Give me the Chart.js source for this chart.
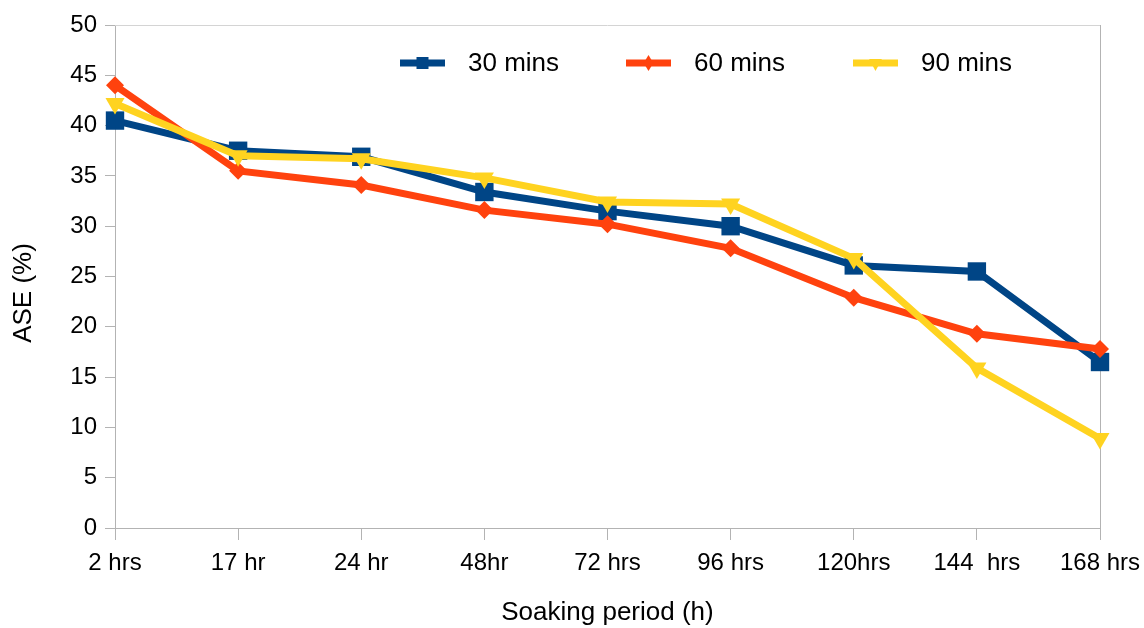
<!DOCTYPE html>
<html>
<head>
<meta charset="utf-8">
<title>ASE vs soaking period</title>
<script src="https://cdn.jsdelivr.net/npm/chart.js@4/dist/chart.umd.min.js"></script>
<style>
  html, body { margin: 0; padding: 0; background: #ffffff; }
  #wrap { width: 1144px; height: 628px; position: relative; }
</style>
</head>
<body>
<div id="wrap"><canvas id="chart" width="1144" height="628"></canvas></div>
<script>
// Soaking periods (category axis)
const periods = ['2 hrs', '17 hr', '24 hr', '48hr', '72 hrs', '96 hrs', '120hrs', '144  hrs', '168 hrs'];

// ASE (%) for each treatment time
const seriesNames = ['30 mins', '60 mins', '90 mins'];
const ase30 = [40.5, 37.5, 36.9, 33.4, 31.5, 30.0, 26.1, 25.5, 16.5];
const ase60 = [44.0, 35.5, 34.1, 31.6, 30.2, 27.8, 22.9, 19.3, 17.8];
const ase90 = [42.2, 37.0, 36.7, 34.8, 32.4, 32.2, 26.8, 15.9, 8.9];

// Y axis ticks
const yMin = 0, yMax = 50, yStep = 5;
const yTitle = 'ASE (%)';
const xTitle = 'Soaking period (h)';

const FONT = '"Liberation Sans", Arial, sans-serif';
const AXIS_GRAY = '#b3b3b3';

Chart.defaults.font.family = FONT;
Chart.defaults.color = '#000000';

// Light frame on the top and right edges of the plot area, plus the y title
const frame = {
  id: 'frame',
  beforeDatasetsDraw(chart) {
    const { ctx, chartArea: a } = chart;
    ctx.save();
    ctx.lineWidth = 1;
    ctx.strokeStyle = '#d4d4d4';
    ctx.beginPath();
    ctx.moveTo(a.left, a.top + 0.5);
    ctx.lineTo(a.right, a.top + 0.5);
    ctx.stroke();
    ctx.strokeStyle = AXIS_GRAY;
    ctx.beginPath();
    ctx.moveTo(Math.round(a.right) + 0.5, a.top);
    ctx.lineTo(Math.round(a.right) + 0.5, a.bottom);
    ctx.stroke();

    ctx.translate(24, 293);
    ctx.rotate(-Math.PI / 2);
    ctx.fillStyle = '#000000';
    ctx.font = '26px ' + FONT;
    ctx.textAlign = 'center';
    ctx.textBaseline = 'middle';
    ctx.fillText(yTitle, 0, 0);
    ctx.restore();
  }
};

// Single-row legend drawn inside the plot area
const innerLegend = {
  id: 'innerLegend',
  afterDraw(chart) {
    const { ctx } = chart;
    const xs = [400, 626, 853];
    const y = 63;
    const lineLen = 45;
    ctx.save();
    chart.data.datasets.forEach((ds, i) => {
      const x0 = xs[i];
      const cx = x0 + lineLen / 2;
      const r = ds.legendRadius;
      ctx.strokeStyle = ds.borderColor;
      ctx.lineWidth = 7;
      ctx.lineCap = 'butt';
      ctx.beginPath();
      ctx.moveTo(x0, y);
      ctx.lineTo(x0 + lineLen, y);
      ctx.stroke();
      ctx.fillStyle = ds.borderColor;
      ctx.beginPath();
      if (ds.pointStyle === 'rect') {
        ctx.rect(cx - r * 0.75, y - r * 0.75, r * 1.5, r * 1.5);
      } else if (ds.pointStyle === 'rectRot') {
        ctx.moveTo(cx, y - r); ctx.lineTo(cx + r * 0.6, y); ctx.lineTo(cx, y + r); ctx.lineTo(cx - r * 0.6, y); ctx.closePath();
      } else {
        ctx.moveTo(cx - r * 0.8, y - 4); ctx.lineTo(cx + r * 0.8, y - 4); ctx.lineTo(cx, y + r); ctx.closePath();
      }
      ctx.fill();
      ctx.fillStyle = '#000000';
      ctx.font = '26px ' + FONT;
      ctx.textBaseline = 'middle';
      ctx.textAlign = 'left';
      ctx.fillText(ds.label, x0 + lineLen + 23, y + 1);
    });
    ctx.restore();
  }
};

new Chart(document.getElementById('chart'), {
  type: 'line',
  data: {
    labels: periods,
    datasets: [
      {
        label: seriesNames[0], data: ase30,
        borderColor: '#004586', backgroundColor: '#004586',
        borderWidth: 7, pointStyle: 'rect', pointRadius: 13, pointBorderWidth: 0,
        legendRadius: 8, order: 3
      },
      {
        label: seriesNames[1], data: ase60,
        borderColor: '#ff420e', backgroundColor: '#ff420e',
        borderWidth: 7, pointStyle: 'rectRot', pointRadius: 9, pointBorderWidth: 0,
        legendRadius: 8, order: 2
      },
      {
        label: seriesNames[2], data: ase90,
        borderColor: '#ffd320', backgroundColor: '#ffd320',
        borderWidth: 7, pointStyle: 'triangle', pointRotation: 180, pointRadius: 11, pointBorderWidth: 0,
        legendRadius: 8, order: 1
      }
    ]
  },
  options: {
    responsive: false,
    animation: false,
    layout: { padding: { left: 0, top: 25, right: 44, bottom: 0 } },
    elements: { line: { tension: 0 } },
    plugins: {
      legend: { display: false },
      tooltip: { enabled: false }
    },
    scales: {
      x: {
        offset: false,
        afterFit(s) { s.height = 100; s.paddingLeft = 0; s.paddingRight = 0; },
        grid: { display: true, drawOnChartArea: false, color: AXIS_GRAY, tickLength: 12 },
        border: { display: true, color: AXIS_GRAY, width: 1 },
        ticks: { font: { size: 24 }, color: '#000000', padding: 9, maxRotation: 0, autoSkip: false },
        title: { display: true, text: xTitle, font: { size: 26 }, color: '#000000', padding: { top: 10, bottom: 0 } }
      },
      y: {
        min: yMin, max: yMax,
        afterFit(s) { s.width = 115; s.paddingTop = 0; s.paddingBottom = 0; },
        grid: { display: true, drawOnChartArea: false, color: AXIS_GRAY, tickLength: 10 },
        border: { display: true, color: AXIS_GRAY, width: 1 },
        ticks: { stepSize: yStep, font: { size: 24 }, color: '#000000', padding: 8 },
        title: { display: false }
      }
    }
  },
  plugins: [frame, innerLegend]
});
</script>
</body>
</html>
